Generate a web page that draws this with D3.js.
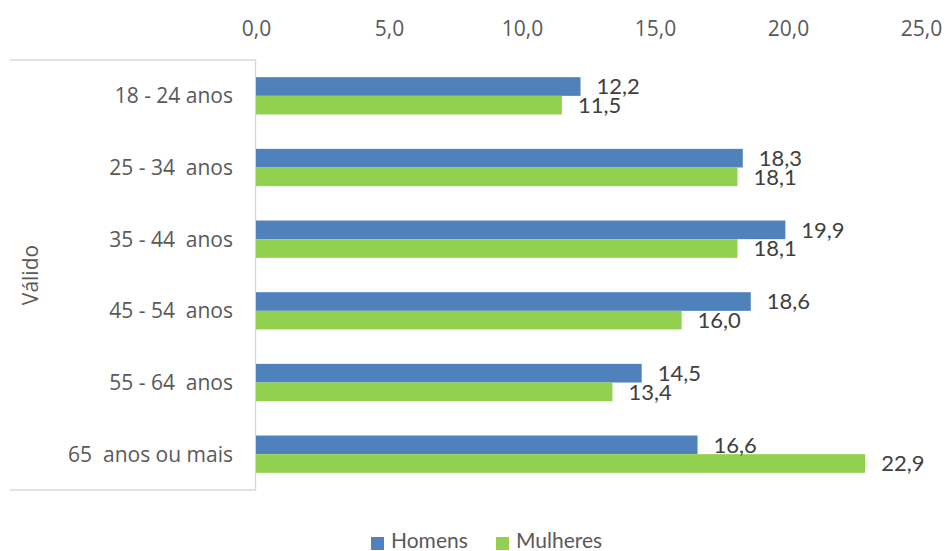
<!DOCTYPE html>
<html>
<head>
<meta charset="utf-8">
<script src="https://cdn.jsdelivr.net/npm/d3@7"></script>
<style>
  html, body { margin: 0; padding: 0; background: #fff; }
  svg { display: block; }
  text { white-space: pre; }
</style>
</head>
<body>
<svg id="chart" width="947" height="551"></svg>
<script>
// Faixas etárias e percentuais por sexo
const categories = ["18 - 24 anos", "25 - 34  anos", "35 - 44  anos", "45 - 54  anos", "55 - 64  anos", "65  anos ou mais"];
const homens   = [12.2, 18.3, 19.9, 18.6, 14.5, 16.6];
const mulheres = [11.5, 18.1, 18.1, 16.0, 13.4, 22.9];
const seriesNames = ["Homens", "Mulheres"];
const seriesColors = ["#4f81bd", "#92d050"];
const xTicks = [0, 5, 10, 15, 20, 25];
const groupLabel = "Válido";

const fmt = v => v.toFixed(1).replace(".", ",");
const textColor = "#595959";

const svg = d3.select("#chart");

const x = d3.scaleLinear().domain([0, 25]).range([256, 921]);
const y = d3.scaleBand().domain(categories).range([60, 490]).paddingInner(0.48).paddingOuter(0.24);
const ySub = d3.scaleBand().domain(seriesNames).range([0, y.bandwidth()]);

// Eixo de valores no topo (apenas rótulos)
const xAxis = d3.axisTop(x).tickValues(xTicks).tickFormat(fmt).tickSize(0).tickPadding(0);
const gx = svg.append("g").attr("transform", "translate(0,36)").call(xAxis);
gx.select(".domain").remove();
gx.selectAll("text")
  .attr("fill", textColor)
  .attr("font-family", "'Open Sans', sans-serif")
  .attr("font-size", 21)
  .attr("dy", 0);

// Moldura das categorias
const frame = svg.append("g").attr("stroke", "#d9d9d9").attr("stroke-width", 1.5).attr("fill", "none");
frame.append("path").attr("d", `M10,60 H255.5 V490 H10`);

// Rótulos das categorias
const gy = svg.append("g").attr("transform", "translate(233,0)")
  .call(d3.axisLeft(y).tickSize(0).tickPadding(0));
gy.select(".domain").remove();
gy.selectAll("text")
  .attr("fill", textColor)
  .attr("font-family", "'Open Sans', sans-serif")
  .attr("font-size", 21)
  .attr("dy", "0.35em");

// Rótulo do agrupamento
svg.append("text")
  .attr("transform", `translate(38,${(60 + 490) / 2}) rotate(-90)`)
  .attr("text-anchor", "middle")
  .attr("fill", textColor)
  .attr("font-family", "'Open Sans', sans-serif")
  .attr("font-size", 21)
  .text(groupLabel);

// Barras
const rows = categories.map((c, i) => ({ cat: c, values: [homens[i], mulheres[i]] }));
const groups = svg.append("g").selectAll("g").data(rows).join("g")
  .attr("transform", d => `translate(0,${y(d.cat)})`);

groups.selectAll("rect").data(d => d.values.map((v, j) => ({ v, s: seriesNames[j], c: seriesColors[j] })))
  .join("rect")
  .attr("x", x(0))
  .attr("y", d => ySub(d.s))
  .attr("width", d => x(d.v) - x(0))
  .attr("height", ySub.bandwidth())
  .attr("fill", d => d.c);

// Rótulos de valor
groups.selectAll("text.val").data(d => d.values.map((v, j) => ({ v, s: seriesNames[j] })))
  .join("text")
  .attr("class", "val")
  .attr("x", d => x(d.v) + 16)
  .attr("y", d => ySub(d.s) + ySub.bandwidth() / 2)
  .attr("dy", "0.36em")
  .attr("fill", "#404040")
  .attr("font-family", "Lato, sans-serif")
  .attr("font-size", 22)
  .text(d => fmt(d.v));

// Legenda
const legend = svg.append("g").attr("transform", "translate(371,548)");
const items = [{ name: seriesNames[0], color: seriesColors[0], x: 0 }, { name: seriesNames[1], color: seriesColors[1], x: 125 }];
const li = legend.selectAll("g").data(items).join("g").attr("transform", d => `translate(${d.x},0)`);
li.append("rect").attr("x", 0).attr("y", -11).attr("width", 13).attr("height", 13).attr("fill", d => d.color);
li.append("text").attr("x", 20).attr("y", 0)
  .attr("fill", textColor)
  .attr("font-family", "Lato, sans-serif")
  .attr("font-size", 21)
  .text(d => d.name);
</script>
</body>
</html>
